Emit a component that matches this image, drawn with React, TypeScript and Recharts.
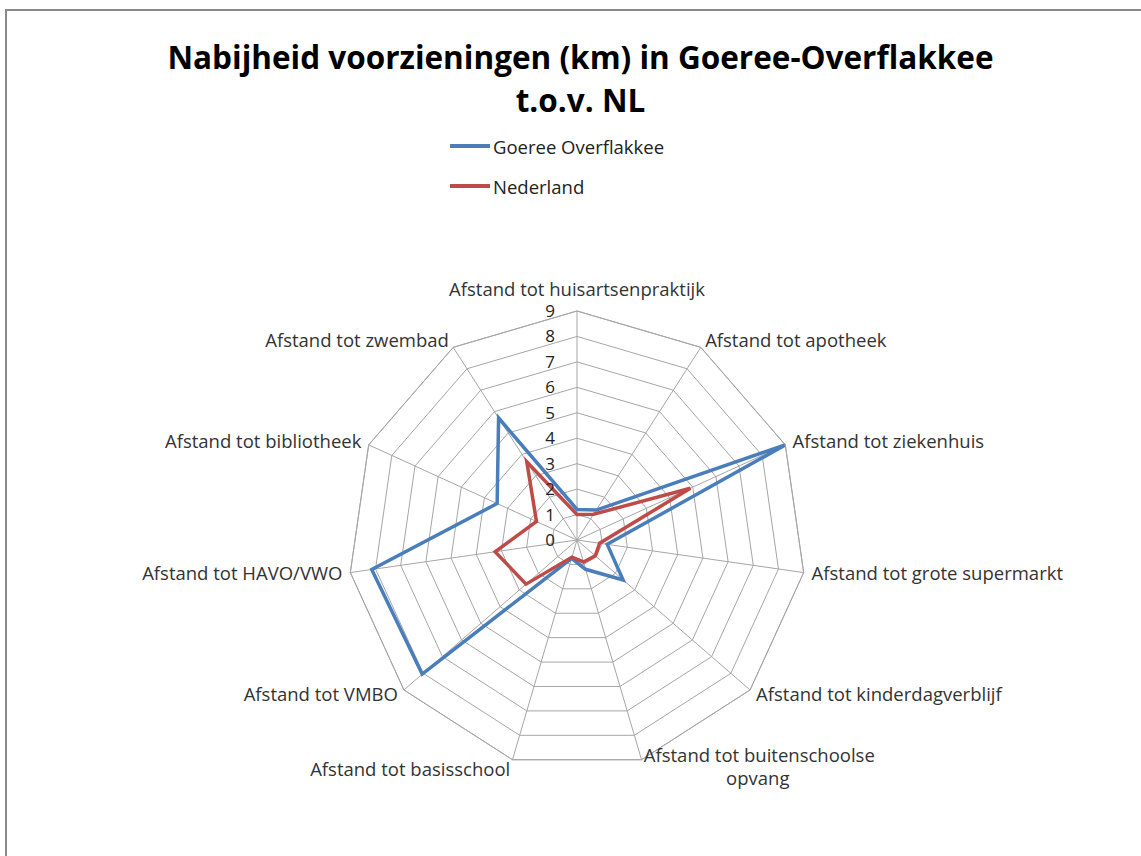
import React from 'react';
import { RadarChart, Radar, PolarGrid, PolarAngleAxis, PolarRadiusAxis, Legend } from 'recharts';

const categories = [
  'Afstand tot huisartsenpraktijk',
  'Afstand tot apotheek',
  'Afstand tot ziekenhuis',
  'Afstand tot grote supermarkt',
  'Afstand tot kinderdagverblijf',
  'Afstand tot buitenschoolse opvang',
  'Afstand tot basisschool',
  'Afstand tot VMBO',
  'Afstand tot HAVO/VWO',
  'Afstand tot bibliotheek',
  'Afstand tot zwembad',
];

const goereeOverflakkee = [1.2, 1.4, 9.0, 1.2, 2.4, 1.2, 0.75, 8.05, 8.15, 3.45, 5.7];
const nederland = [1.0, 1.2, 4.9, 0.9, 0.95, 0.9, 0.7, 2.65, 3.25, 1.75, 3.65];

const radiusTicks = [0, 1, 2, 3, 4, 5, 6, 7, 8, 9];

const seriesNames = ['Goeree Overflakkee', 'Nederland'];
const seriesColors = ['#4a7ebb', '#be4b48'];

const data = categories.map((c, i) => ({
  name: c,
  goeree: goereeOverflakkee[i],
  nl: nederland[i],
}));

const CX = 577;
const CY = 540;
const R = 229;
const FONT = '"Open Sans", sans-serif';
const LABEL_SIZE = 18.5;

function AngleTick(props: any) {
  const idx = categories.indexOf(props.payload.value);
  const theta = (idx * 2 * Math.PI) / categories.length;
  const s = Math.sin(theta);
  const c = Math.cos(theta);
  const x = CX + (R + 8) * s;
  let y = CY - (R + 8) * c;
  let anchor: 'start' | 'middle' | 'end' = 'middle';
  if (s > 0.1) anchor = 'start';
  else if (s < -0.1) anchor = 'end';
  if (idx === 0) y -= 13;
  if (idx === 6) y += 3;
  const label = props.payload.value as string;
  if (idx === 5) {
    // wrapped over two lines, like the original
    return (
      <g>
        <text x={x} y={y - 11} dy={6} textAnchor="start" fontSize={LABEL_SIZE} fill="#333" fontFamily={FONT}>
          Afstand tot buitenschoolse
        </text>
        <text x={x + 114} y={y + 12} dy={6} textAnchor="middle" fontSize={LABEL_SIZE} fill="#333" fontFamily={FONT}>
          opvang
        </text>
      </g>
    );
  }
  return (
    <text x={x} y={y} dy={6} textAnchor={anchor} fontSize={LABEL_SIZE} fill="#333" fontFamily={FONT}>
      {label}
    </text>
  );
}

function RadiusTick(props: any) {
  return (
    <text x={props.x - 22} y={props.y} dy={6} textAnchor="end" fontSize={17} fill="#222" fontFamily={FONT}>
      {props.payload.value}
    </text>
  );
}

function LegendContent() {
  return (
    <div style={{ fontFamily: FONT, fontSize: 18.5, color: '#222' }}>
      {seriesNames.map((n, i) => (
        <div key={n} style={{ display: 'flex', alignItems: 'center', height: 40 }}>
          <div style={{ width: 40, height: 3.5, background: seriesColors[i], marginRight: 3 }} />
          <span>{n}</span>
        </div>
      ))}
    </div>
  );
}

export default function App() {
  return (
    <div style={{ position: 'absolute', left: 0, top: 0, width: 1141, height: 856, background: '#fff', overflow: 'hidden' }}>
      <div
        style={{
          position: 'absolute',
          left: 5,
          top: 9,
          width: 1150,
          height: 900,
          borderLeft: '2px solid #8a8a8a',
          borderTop: '2px solid #8a8a8a',
        }}
      />
      <div
        style={{
          position: 'absolute',
          left: 0,
          width: 1161,
          top: 35,
          textAlign: 'center',
          fontFamily: FONT,
          fontWeight: 700,
          fontSize: 31.5,
          lineHeight: '43px',
          color: '#000',
        }}
      >
        Nabijheid voorzieningen (km) in Goeree-Overflakkee
        <br />
        t.o.v. NL
      </div>
      <div style={{ position: 'absolute', left: 0, top: 0 }}>
        <RadarChart width={1141} height={856} data={data} cx={CX} cy={CY} outerRadius={R} margin={{ top: 0, right: 0, bottom: 0, left: 0 }}>
          <PolarGrid gridType="polygon" stroke="#a6a6a6" strokeWidth={1} />
          <PolarAngleAxis dataKey="name" tick={AngleTick} tickLine={false} axisLine={{ stroke: '#a6a6a6' }} />
          <PolarRadiusAxis angle={90} domain={[0, 9]} ticks={radiusTicks} tickCount={10} axisLine={false} tick={RadiusTick} />
          <Radar name={seriesNames[0]} dataKey="goeree" stroke={seriesColors[0]} strokeWidth={3.5} fill="none" fillOpacity={0} isAnimationActive={false} dot={false} />
          <Radar name={seriesNames[1]} dataKey="nl" stroke={seriesColors[1]} strokeWidth={3.5} fill="none" fillOpacity={0} isAnimationActive={false} dot={false} />
          <Legend content={LegendContent} wrapperStyle={{ position: 'absolute', left: 450, top: 126, width: 300 }} />
        </RadarChart>
      </div>
    </div>
  );
}
